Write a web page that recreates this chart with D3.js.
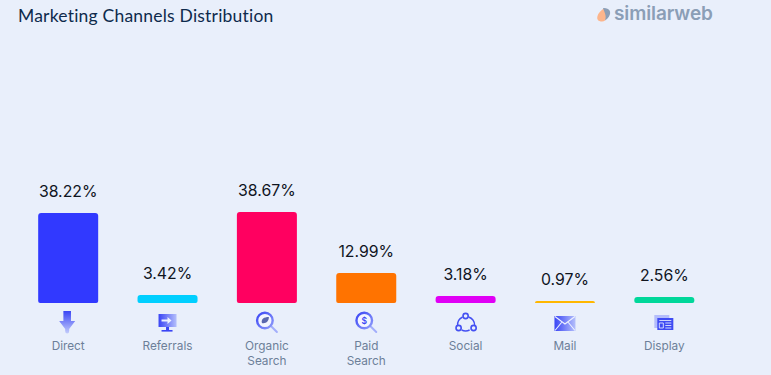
<!DOCTYPE html>
<html>
<head>
<meta charset="utf-8">
<script src="https://cdn.jsdelivr.net/npm/d3@7"></script>
<style>
    html, body { margin: 0; padding: 0; background: #e9effb; overflow: hidden; }
    svg { display: block; }
</style>
</head>
<body>
<div id="chart"></div>
<script>

// Chart data
var channels = ["Direct", "Referrals", "Organic Search", "Paid Search", "Social", "Mail", "Display"];
var shares = [38.22, 3.42, 38.67, 12.99, 3.18, 0.97, 2.56];
var barColors = ["#3139ff", "#00cfff", "#ff0060", "#ff7300", "#e000f5", "#ffb700", "#00d79a"];
var iconNames = ["direct", "referrals", "organic", "paid", "social", "mail", "display"];

var width = 771, height = 375;
var baseline = 303;

var svg = d3.select("#chart").append("svg")
    .attr("width", width)
    .attr("height", height);

var defs = svg.append("defs");

// Gradients used by the channel icons
var grad = defs.append("linearGradient").attr("id", "iconFade")
    .attr("x1", 0).attr("y1", 0).attr("x2", 1).attr("y2", 1);
grad.append("stop").attr("offset", "0%").attr("stop-color", "#3a45f5");
grad.append("stop").attr("offset", "100%").attr("stop-color", "#8f9cfa");

var gradDown = defs.append("linearGradient").attr("id", "iconDown")
    .attr("x1", 0).attr("y1", 0).attr("x2", 0).attr("y2", 1);
gradDown.append("stop").attr("offset", "0%").attr("stop-color", "#3a45f5");
gradDown.append("stop").attr("offset", "100%").attr("stop-color", "#c3ccfb");

var gradSide = defs.append("linearGradient").attr("id", "iconSide")
    .attr("x1", 0).attr("y1", 0).attr("x2", 1).attr("y2", 0);
gradSide.append("stop").attr("offset", "0%").attr("stop-color", "#3a45f5");
gradSide.append("stop").attr("offset", "100%").attr("stop-color", "#b4bffb");

svg.append("rect")
    .attr("width", width)
    .attr("height", height)
    .attr("fill", "#e9effb");


// Title and logo
svg.append("text")
    .attr("x", 18)
    .attr("y", 22)
    .attr("font-family", "Lato")
    .attr("font-size", 17.5)
    .attr("letter-spacing", 0.21)
    .attr("fill", "#0e2a4c")
    .text("Marketing Channels Distribution");

var logo = svg.append("g").attr("transform", "translate(603,14.5)");
logo.append("path")
    .attr("d", "M1,-6 C-6,-2 -9,7 -1,7 C4,7 5,1 1,-6 Z")
    .attr("fill", "#fcb58c");
logo.append("path")
    .attr("d", "M0,-6.5 C6,-7 9,-3 6,2 C5,4 3,5 2,6 C4,1 1,-3 0,-6.5 Z")
    .attr("fill", "#8b9eb6");
svg.append("text")
    .attr("x", 614)
    .attr("y", 20)
    .attr("font-family", "Inter")
    .attr("font-size", 19)
    .attr("font-weight", 600)
    .attr("letter-spacing", -0.1)
    .attr("fill", "#8b9eb6")
    .text("similarweb");


// Scales
var x = d3.scaleBand()
    .domain(channels)
    .range([18.5, 714])
    .paddingInner(0.396)
    .paddingOuter(0.198);

var y = d3.scaleLinear()
    .domain([0, 38.67])
    .range([baseline, 212]);

var center = function(d) { return x(d) + x.bandwidth() / 2; };

// Bar tops sit on whole pixels
var barTop = function(v) { return Math.ceil(y(v) - 0.1); };


// Bars, rounded on the corners
var barPath = function(d, i) {
    var x0 = x(d), x1 = x0 + x.bandwidth(), y0 = barTop(shares[i]);
    var r = Math.min(3, baseline - y0);
    var low = Math.min(2, baseline - y0 - r);
    var p = d3.path();
    p.moveTo(x0, baseline - low);
    p.lineTo(x0, y0 + r);
    p.quadraticCurveTo(x0, y0, x0 + r, y0);
    p.lineTo(x1 - r, y0);
    p.quadraticCurveTo(x1, y0, x1, y0 + r);
    p.lineTo(x1, baseline - low);
    p.quadraticCurveTo(x1, baseline, x1 - low, baseline);
    p.lineTo(x0 + low, baseline);
    p.quadraticCurveTo(x0, baseline, x0, baseline - low);
    p.closePath();
    return p.toString();
};

svg.selectAll(".bar")
    .data(channels)
    .enter().append("path")
    .attr("class", "bar")
    .attr("d", barPath)
    .attr("fill", function(d, i) { return barColors[i]; });

// Value labels
svg.selectAll(".value")
    .data(channels)
    .enter().append("text")
    .attr("class", "value")
    .attr("x", center)
    .attr("y", function(d, i) { return barTop(shares[i]) - 16; })
    .attr("text-anchor", "middle")
    .attr("font-family", "Inter")
    .attr("font-size", 15.8)
    .attr("fill", "#10151f")
    .text(function(d, i) { return shares[i].toFixed(2) + "%"; });

// Category labels, two words wrap on two lines
svg.selectAll(".channel")
    .data(channels)
    .enter().append("text")
    .attr("class", "channel")
    .attr("text-anchor", "middle")
    .attr("font-family", "Inter")
    .attr("font-size", 11.8)
    .attr("fill", "#6d7f99")
    .each(function(d) {
        var label = d3.select(this);
        d.split(" ").forEach(function(word, i) {
            label.append("tspan")
                .attr("x", center(d))
                .attr("y", 350 + i * 15)
                .text(word);
        });
    });


// Channel icons
var lens = function(g) {
    g.append("path").attr("d", "M4,4 L10,10")
        .attr("stroke", "#a3aefb").attr("stroke-width", 2).attr("stroke-linecap", "round");
    g.append("circle").attr("cx", -2).attr("cy", -1.5).attr("r", 7.8)
        .attr("fill", "#f3f5ff").attr("stroke", "url(#iconFade)").attr("stroke-width", 2.4);
};

var icons = {
    direct: function(g) {
        g.append("path")
            .attr("transform", "translate(-1,0)")
            .attr("d", "M-3.8,-11 H3.8 V-1 H8 L2,7 V9 A2,2.5 0 0 1 -2,9 V7 L-8,-1 H-3.8 Z")
            .attr("fill", "url(#iconDown)");
    },
    referrals: function(g) {
        g.append("rect").attr("x", -9).attr("y", -8).attr("width", 18).attr("height", 13)
            .attr("fill", "url(#iconSide)");
        g.append("path").attr("d", "M-6,-2.5 H0 V-5 L4,-1.5 L0,2 V-0.5 H-6 Z").attr("fill", "#eef2ff");
        g.append("rect").attr("x", -1.5).attr("y", 5).attr("width", 3).attr("height", 3).attr("fill", "#3a45f5");
        g.append("rect").attr("x", -6).attr("y", 8).attr("width", 11).attr("height", 1.6).attr("fill", "#3a45f5");
    },
    organic: function(g) {
        lens(g);
        g.append("path").attr("d", "M-5,1 C-6,-3 -3,-5 2,-5 C2,-1 -1,2 -5,1 Z").attr("fill", "#5b67ae");
    },
    paid: function(g) {
        lens(g);
        g.append("text").attr("x", -2).attr("y", 1.5).attr("text-anchor", "middle")
            .attr("font-family", "Inter").attr("font-size", 8.5).attr("font-weight", 600)
            .attr("fill", "#3a45f5").text("$");
    },
    social: function(g) {
        g.append("path")
            .attr("d", "M-8,4 A9,9 0 0 1 -3,-5 M3,-5 A9,9 0 0 1 9,3 M-4,8 A9,9 0 0 0 4,8")
            .attr("fill", "none").attr("stroke", "#4450f2").attr("stroke-width", 1.4);
        [[0, -6], [-7, 6], [8, 6]].forEach(function(c) {
            g.append("circle").attr("cx", c[0]).attr("cy", c[1]).attr("r", 2.6)
                .attr("fill", "#e9effb").attr("stroke", "#4450f2").attr("stroke-width", 1.6);
        });
    },
    mail: function(g) {
        g.append("rect").attr("x", -10.5).attr("y", -6).attr("width", 21).attr("height", 15)
            .attr("fill", "url(#iconSide)");
        g.append("path").attr("d", "M-10,-5.5 L0,2 L10,-5.5 M-10,8.5 L-3,0 M10,8.5 L3,0")
            .attr("fill", "none").attr("stroke", "#eef2ff").attr("stroke-width", 1.1);
    },
    display: function(g) {
        g.append("rect").attr("x", -10).attr("y", -7).attr("width", 15).attr("height", 13).attr("fill", "#b4bdfb");
        g.append("rect").attr("x", -7).attr("y", -4).attr("width", 16).attr("height", 12).attr("fill", "#3f4bf3");
        g.append("path").attr("d", "M-5,-1.5 H7 M-5,1 H-1 V6 H-5 Z M1,1 H7 M1,3.5 H7 M1,6 H7")
            .attr("fill", "none").attr("stroke", "#dfe5ff").attr("stroke-width", 0.9);
    }
};

svg.selectAll(".icon")
    .data(channels)
    .enter().append("g")
    .attr("class", "icon")
    .attr("transform", function(d) { return "translate(" + center(d) + ",322)"; })
    .each(function(d, i) {
        icons[iconNames[i]](d3.select(this));
    });

</script>
</body>
</html>
